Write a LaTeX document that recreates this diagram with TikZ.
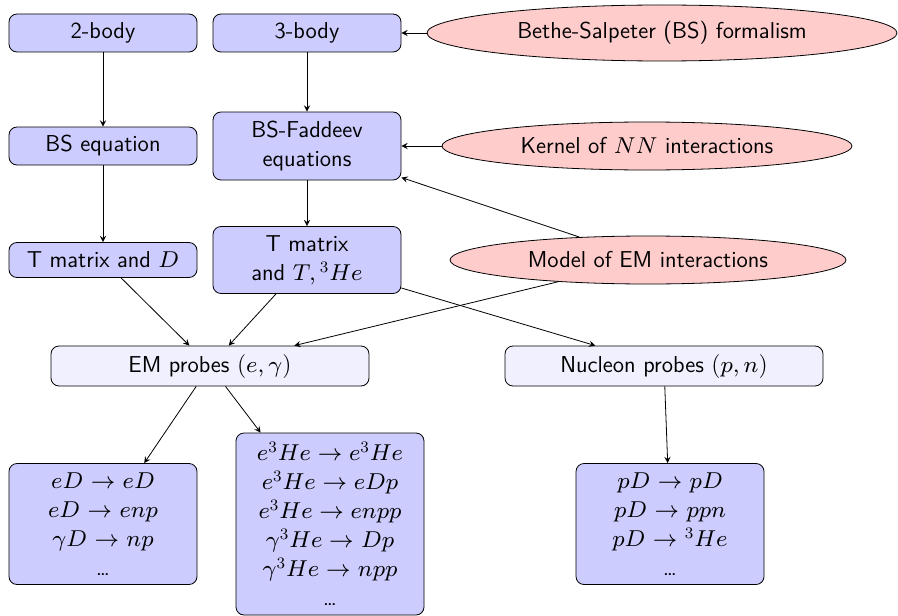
\documentclass[tikz,border=0pt]{standalone}
\usepackage{amsmath,amssymb}
\usetikzlibrary{shapes.geometric,arrows}
% small design sizes, set large
\DeclareFontFamily{OT1}{cmss}{\hyphenchar\font45 }
\DeclareFontShape{OT1}{cmss}{m}{n}{<-> cmss8}{}
\DeclareFontShape{OML}{cmm}{m}{it}{<-> cmmi8}{}
\DeclareFontShape{OMS}{cmsy}{m}{n}{<-> cmsy8}{}

\begin{document}
\begin{tikzpicture}[x=0.5pt,y=-0.5pt,>=stealth,
  font={\fontsize{11.5}{14.5}\selectfont\sffamily},
  box/.style={rectangle,draw,rounded corners,fill=blue!20,align=center,
              minimum width=94pt,minimum height=19pt,inner sep=3pt},
  probe/.style={box,fill=blue!6,minimum width=159pt,minimum height=20pt},
  model/.style={ellipse,draw,fill=red!20,inner sep=0pt}]
\useasboundingbox (0,0) rectangle (898,615);

% left column: two-body
\node[box] (two) at (103,33) {2-body};
\node[box] (bse) at (103,146) {BS equation};
\node[box,minimum height=17.5pt] (tmd) at (103,260) {T matrix and $D$};

% middle column: three-body
\node[box] (three) at (307,33) {3-body};
\node[box,minimum height=34pt] (bsf) at (307,146) {BS-Faddeev\\equations};
\node[box,minimum height=33.5pt] (tmhe) at (307,260) {T matrix\\and $T,{}^3He$};

% inputs
\node[model,minimum width=235pt,minimum height=28pt] (bs) at (662,33)
     {Bethe-Salpeter (BS) formalism};
\node[model,minimum width=205pt,minimum height=24pt] (nn) at (647,146)
     {Kernel of $NN$ interactions};
\node[model,minimum width=198pt,minimum height=24pt] (em) at (648,260)
     {Model of EM interactions};

% probes
\node[probe] (emp) at (210,366) {EM probes $(e,\gamma)$};
\node[probe] (nucp) at (664,366) {Nucleon probes $(p,n)$};

% reactions
\node[box,minimum height=60.5pt] (emd) at (103,524)
     {$eD$ $\rightarrow$ $eD$\\$eD$ $\rightarrow$ $enp$\\$\gamma D$ $\rightarrow$ $np$\\\ldots};
\node[box,minimum height=91pt] (emhe) at (330,524)
     {$e^3He\rightarrow e^3He$\\$e^3He\rightarrow eDp$\\$e^3He\rightarrow enpp$\\
      $\gamma^3He\rightarrow$ $Dp$\\$\gamma^3He\rightarrow$ $npp$\\\ldots};
\node[box,minimum height=60.5pt] (nucd) at (670,524)
     {$pD$ $\rightarrow$ $pD$\\$pD$ $\rightarrow$ $ppn$\\$pD$ $\rightarrow$ ${}^3He$\\\ldots};

\draw[->] (two) -- (bse);
\draw[->] (bse) -- (tmd);
\draw[->] (three) -- (bsf);
\draw[->] (bsf) -- (tmhe);
\draw[->] (bs) -- (three);
\draw[->] (nn) -- (bsf);
\draw[->] (em) -- (bsf);
\draw[->] (tmd) -- (emp);
\draw[->] (tmhe) -- (emp);
\draw[->] (em) -- (emp);
\draw[->] (tmhe) -- (nucp);
\draw[->] (emp) -- (emd);
\draw[->] (emp) -- (emhe);
\draw[->] (nucp) -- (nucd);

\end{tikzpicture}
\end{document}
